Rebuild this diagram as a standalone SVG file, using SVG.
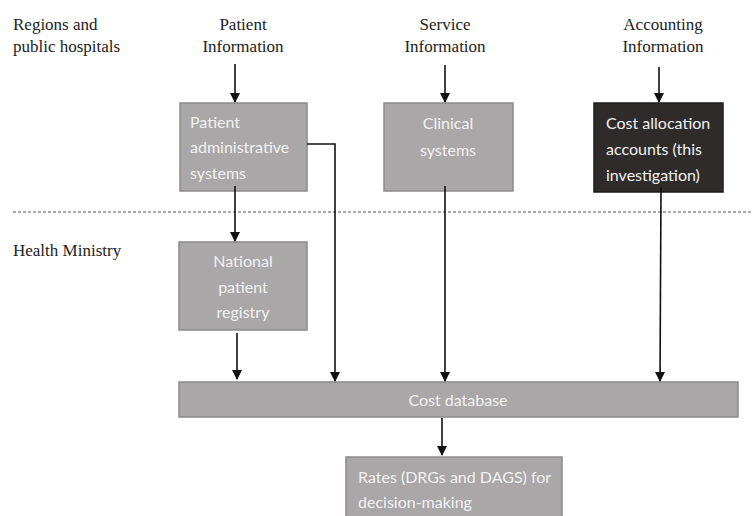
<svg xmlns="http://www.w3.org/2000/svg" width="753" height="516" viewBox="0 0 753 516">
<defs>
<marker id="ah" markerWidth="10" markerHeight="10" refX="9" refY="5" orient="auto" markerUnits="userSpaceOnUse" viewBox="0 0 10 10">
<path d="M0,0 L10,5 L0,10 Z" fill="#111"/>
</marker>
</defs>
<style>
.lbl{font-family:"Liberation Serif","Times New Roman",serif;font-size:17px;fill:#222}
.box{fill:#a9a7a7;stroke:#8c8b8b;stroke-width:1.5}
.dark{fill:#2f2b2b;stroke:#1e1b1b;stroke-width:1.5}
.bt{font-family:"Lato","Liberation Sans",sans-serif;font-size:16px;fill:#f2f2f2}
.con{fill:none;stroke:#111;stroke-width:1.6}
</style>
<rect width="753" height="516" fill="#fff"/>
<g id="labels">
<text class="lbl" x="13" y="30">Regions and</text>
<text class="lbl" x="13" y="52">public hospitals</text>
<text class="lbl" x="243" y="30" text-anchor="middle">Patient</text>
<text class="lbl" x="243" y="52" text-anchor="middle">Information</text>
<text class="lbl" x="445" y="30" text-anchor="middle">Service</text>
<text class="lbl" x="445" y="52" text-anchor="middle">Information</text>
<text class="lbl" x="663" y="30" text-anchor="middle">Accounting</text>
<text class="lbl" x="663" y="52" text-anchor="middle">Information</text>
<text class="lbl" x="13" y="256">Health Ministry</text>
</g>
<line x1="13" y1="212" x2="753" y2="212" stroke="#555" stroke-width="1.2" stroke-dasharray="3,2"/>
<g id="node-admin">
<rect class="box" x="180" y="103" width="127" height="88"/>
<text class="bt" x="190" y="128">Patient</text>
<text class="bt" x="190" y="153">administrative</text>
<text class="bt" x="190" y="179">systems</text>
</g>
<g id="node-clinical">
<rect class="box" x="384" y="103" width="129" height="88"/>
<text class="bt" x="448" y="129" text-anchor="middle">Clinical</text>
<text class="bt" x="448" y="156" text-anchor="middle">systems</text>
</g>
<g id="node-costalloc">
<rect class="dark" x="594" y="103" width="129" height="89"/>
<text class="bt" x="606" y="129">Cost allocation</text>
<text class="bt" x="606" y="155">accounts (this</text>
<text class="bt" x="606" y="181">investigation)</text>
</g>
<g id="node-registry">
<rect class="box" x="179" y="242" width="128" height="88"/>
<text class="bt" x="243" y="267" text-anchor="middle">National</text>
<text class="bt" x="243" y="293" text-anchor="middle">patient</text>
<text class="bt" x="243" y="318" text-anchor="middle">registry</text>
</g>
<g id="node-costdb">
<rect class="box" x="179" y="382" width="559" height="35"/>
<text class="bt" x="458" y="406" text-anchor="middle">Cost database</text>
</g>
<g id="node-rates">
<rect class="box" x="346" y="457" width="216" height="70"/>
<text class="bt" x="358" y="483">Rates (DRGs and DAGS) for</text>
<text class="bt" x="358" y="508">decision-making</text>
</g>
<g id="connectors">
<line class="con" x1="235" y1="64" x2="235" y2="102" marker-end="url(#ah)"/>
<line class="con" x1="445" y1="65" x2="445" y2="102" marker-end="url(#ah)"/>
<line class="con" x1="659" y1="67" x2="659" y2="102" marker-end="url(#ah)"/>
<line class="con" x1="235" y1="186" x2="235" y2="241" marker-end="url(#ah)"/>
<line class="con" x1="237" y1="333" x2="237" y2="379" marker-end="url(#ah)"/>
<polyline class="con" points="307,144 335,144 335,381" marker-end="url(#ah)"/>
<line class="con" x1="445" y1="186" x2="445" y2="381" marker-end="url(#ah)"/>
<line class="con" x1="661" y1="187" x2="660" y2="381" marker-end="url(#ah)"/>
<line class="con" x1="442" y1="418" x2="442" y2="455" marker-end="url(#ah)"/>
</g>
</svg>
